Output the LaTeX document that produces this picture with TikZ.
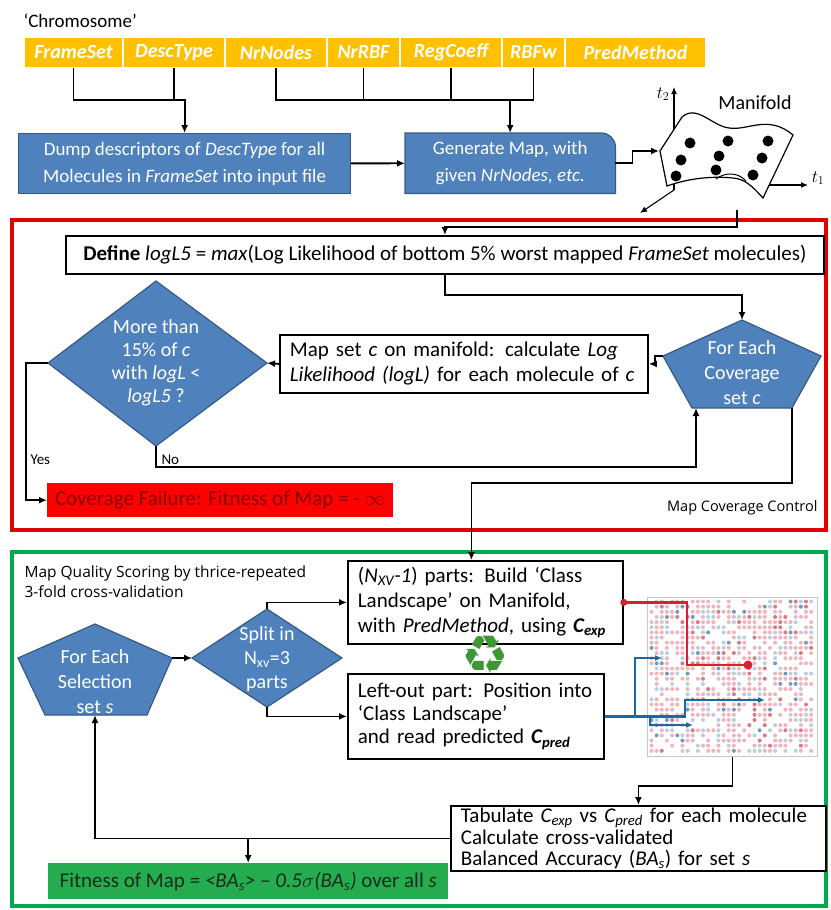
\documentclass[tikz,border=0pt]{standalone}
\usepackage{fontspec}
\setmainfont{Carlito}
\newfontfamily\labelfont{Open Sans}
\newfontfamily\symbolfont{DejaVu Sans}
\usepackage{tikz}
\usetikzlibrary{arrows.meta,positioning,backgrounds}
\definecolor{chromgold}{RGB}{255,192,0}
\definecolor{boxblue}{RGB}{79,129,189}
\definecolor{frred}{RGB}{226,0,0}
\definecolor{frgreen}{RGB}{0,168,80}
\definecolor{failred}{RGB}{255,0,0}
\definecolor{failtext}{RGB}{135,0,0}
\definecolor{fitgreen}{RGB}{36,172,78}
\definecolor{fittext}{RGB}{25,45,30}
\definecolor{lsred}{RGB}{218,32,44}
\definecolor{lsblue}{RGB}{30,104,162}
\definecolor{recgreen}{RGB}{62,150,52}
\definecolor{dotred}{RGB}{242,180,188}
\definecolor{dotdred}{RGB}{218,120,132}
\definecolor{dotblue}{RGB}{184,206,228}
\definecolor{dotdblue}{RGB}{118,152,190}
\newcommand{\pxfont}[2]{\fontsize{#1}{#2}\selectfont}

\begin{document}
\begin{tikzpicture}[x=1pt, y=-1pt,
      cell/.style={fill=chromgold, draw=white, line width=1.3pt, outer sep=0pt, inner sep=0pt,
        minimum height=31pt, text=white, font=\pxfont{20}{24}\bfseries\itshape},
      bluebox/.style={fill=boxblue, draw=boxblue!70!black, line width=1.2pt, text=white,
        align=center, inner sep=4pt, font=\pxfont{19}{27}},
      blueshape/.style={fill=boxblue, draw=boxblue!70!black, line width=1.2pt},
      shapetext/.style={text=white, align=center, inner sep=0pt, font=\pxfont{20}{24}},
      wbox/.style={fill=white, draw=black, line width=1.8pt, inner sep=0pt, inner xsep=10pt,
        font=\pxfont{21}{25}},
      arr/.style={-{Latex[length=8pt,width=7pt]}, line width=1.8pt},
      link/.style={line width=1.8pt},
      axis/.style={-{Latex[length=7pt,width=6pt]}, line width=1.1pt},
      lsline/.style={-{Latex[length=7pt,width=6pt]}, line width=2.2pt}
    ]
  \useasboundingbox (0,0) rectangle (830,910);

  \draw[frred, line width=3.5pt] (12,220) rectangle (826,530);
  \draw[frgreen, line width=3.5pt] (12,552) rectangle (826,906);

  % chromosome genes
  \node[anchor=west, font=\pxfont{19}{23}] (chromlbl) at (20,21) {‘Chromosome’};
  \node[cell, minimum width=99pt, anchor=north west] (fs) at (24,37) {FrameSet};
  \node[cell, minimum width=102pt, right=0pt of fs] (dt) {DescType};
  \node[cell, minimum width=102pt, right=0pt of dt] (nn) {NrNodes};
  \node[cell, minimum width=73pt, right=0pt of nn] (nr) {NrRBF};
  \node[cell, minimum width=102pt, right=0pt of nr] (rc) {RegCoeff};
  \node[cell, minimum width=63pt, right=0pt of rc] (rw) {RBFw};
  \node[cell, minimum width=141pt, right=0pt of rw] (pm) {PredMethod};

  \node[bluebox, minimum width=332pt, minimum height=60pt, anchor=north west] (dump) at (18,133)
    {Dump descriptors of \textit{DescType} for all\\Molecules in \textit{FrameSet} into input file};
  \node[shapetext, minimum width=210pt, minimum height=60pt, anchor=north west, font=\pxfont{19}{27}] (gen) at (405,133)
    {Generate Map, with\\given \textit{NrNodes}, \textit{etc.}};
  \begin{scope}[on background layer]
    \filldraw[blueshape] (gen.south west) -- (gen.north west) -- ([xshift=-14pt]gen.north east)
      arc[start angle=90, end angle=0, radius=14pt] -- (gen.south east) -- cycle;
  \end{scope}

  \coordinate (jl) at (0,100);
  \draw[arr] (fs.south) |- (dump.north |- jl) -- (dump.north);
  \draw[link] (dt.south) -- (dt.south |- jl);
  \draw[link] (nn.south) |- (rw.south |- jl) -- (rw.south);
  \draw[link] (nr.south) -- (nr.south |- jl);
  \draw[link] (rc.south) -- (rc.south |- jl);
  \draw[arr] (gen.north |- jl) -- (gen.north);
  \draw[arr] (dump) -- (gen);

  % manifold sketch
  \coordinate (org) at (674,190);
  \coordinate (t1s) at (769,185);
  \coordinate (mfin) at (659,151);
  \draw[axis] (org) -- (674,87);
  \draw[axis] (org) -- (640,213);
  \draw[axis] (t1s) -- (808,185);
  \filldraw[fill=white, draw=black, line width=1.2pt] (682,117)
    .. controls (697,104) and (712,126) .. (729,128)
    .. controls (748,131) and (768,114) .. (793,135) -- (763,198)
    .. controls (752,186) and (745,179) .. (733,178)
    .. controls (712,176) and (690,178) .. (667,186) -- (660,151) -- cycle;
  \draw[line width=1pt] (716,179) .. controls (725,172) and (738,172) .. (746,181);
  \foreach \p in {(690,143),(728,141),(768,141),(681,160),(719,156),(762,158),(676,176),(716,170),(753,175)}
    \fill \p circle (5.5pt);
  \node[font=\pxfont{18}{18}] (t2lbl) at (663,94) {$t_2$};
  \node[font=\pxfont{18}{18}] (t1lbl) at (818,178) {$t_1$};
  \node[font=\pxfont{20}{24}] (mflbl) at (755,103) {Manifold};
  \draw[arr] (gen.east) -- ++(17,0) |- (mfin);

  % map coverage control
  \coordinate (mfout) at (737,210);
  \node[wbox, minimum width=758pt, minimum height=38pt, anchor=north west] (def) at (65,235)
    {\textbf{Define} \textit{logL5} = \textit{max}(Log Likelihood of bottom 5\% worst mapped \textit{FrameSet} molecules)};
  \draw[arr] (mfout) -- ++(0,17) -| (def.north);

  \coordinate (cov-t) at (742,320);
  \coordinate (cov-r) at (821,356);
  \coordinate (cov-br) at (792,408);
  \coordinate (cov-bl) at (692,408);
  \coordinate (cov-l) at (663,356);
  \coordinate (cov-in) at (696,408);
  \filldraw[blueshape] (cov-t) -- (cov-r) -- (cov-br) -- (cov-bl) -- (cov-l) -- cycle;
  \node[shapetext, font=\pxfont{20}{25}] (covtxt) at (742,373) {For Each\\Coverage\\set \textit{c}};
  \draw[arr] (def.south) -- ++(0,20) -| (cov-t);

  \node[wbox, minimum width=368pt, minimum height=58pt, text width=348pt, align=left, anchor=north west] (mapc) at (279,334)
    {Map set \textit{c} on manifold: calculate \textit{Log}\\\textit{Likelihood (logL)} for each molecule of \textit{c}};
  \draw[arr] (cov-l) -- ++(-8,0) |- (mapc.east);

  \coordinate (dec-t) at (156,281);
  \coordinate (dec-r) at (267,363);
  \coordinate (dec-b) at (156,446);
  \coordinate (dec-l) at (48,363);
  \filldraw[blueshape] (dec-t) -- (dec-r) -- (dec-b) -- (dec-l) -- cycle;
  \node[shapetext, font=\pxfont{20}{23}] (dectxt) at (156,363)
    {More than\\15\% of \textit{c}\\with \textit{logL} <\\\textit{logL5} ?};
  \draw[arr] (mapc.west) -- (dec-r);

  \node[fill=failred, text=failtext, inner sep=0pt, minimum width=346pt, minimum height=34pt,
    anchor=north west, font=\pxfont{21}{25}] (fail) at (47,483)
    {Coverage Failure: Fitness of Map = - $\infty$};
  \draw[arr] (dec-l) -- ++(-22,0) |- (fail.west);
  \node[anchor=west, font=\pxfont{15}{18}] (yeslbl) at (27,460) {Yes};
  \draw[arr] (dec-b) -- ++(0,21) -| (cov-in);
  \node[anchor=west, font=\pxfont{15}{18}] (nolbl) at (158,460) {No};
  \node[anchor=east, font=\labelfont\pxfont{14.5}{17}] (mcclbl) at (821,508) {Map Coverage Control};

  % map quality scoring
  \node[anchor=north west, align=left, font=\labelfont\pxfont{15.5}{20}] (mqlbl) at (21,562)
    {Map Quality Scoring by thrice-repeated\\3-fold cross-validation};

  \coordinate (sel-t) at (95,624);
  \coordinate (sel-r) at (172,658);
  \coordinate (sel-br) at (147,715);
  \coordinate (sel-bl) at (45,715);
  \coordinate (sel-l) at (18,658);
  \coordinate (sel-b) at (95,715);
  \filldraw[blueshape] (sel-t) -- (sel-r) -- (sel-br) -- (sel-bl) -- (sel-l) -- cycle;
  \node[shapetext, font=\pxfont{20}{25}] (seltxt) at (95,682) {For Each\\Selection\\set \textit{s}};

  \coordinate (spl-t) at (267,609);
  \coordinate (spl-r) at (342,658);
  \coordinate (spl-b) at (267,707);
  \coordinate (spl-l) at (192,658);
  \filldraw[blueshape] (spl-t) -- (spl-r) -- (spl-b) -- (spl-l) -- cycle;
  \node[shapetext, font=\pxfont{20}{24}] (spltxt) at (267,659) {Split in\\N\textsubscript{xv}=3\\parts};
  \draw[arr] (sel-r) -- (spl-l);

  \node[wbox, minimum width=275pt, minimum height=83pt, text width=255pt, align=left, anchor=north west] (build) at (347,560)
    {(\textit{N\textsubscript{XV}-1}) parts: Build ‘Class\\Landscape’ on Manifold,\\with \textit{PredMethod}, using \textbf{\textit{C\textsubscript{exp}}}};
  \node[wbox, minimum width=256pt, minimum height=85pt, text width=236pt, align=left, anchor=north west,
    font=\pxfont{21}{23}] (left) at (347,673)
    {Left-out part: Position into\\‘Class Landscape’\\and read predicted \textbf{\textit{C\textsubscript{pred}}}};
  \draw[arr] (spl-t) |- (build.west);
  \draw[arr] (spl-b) |- (left.west);
  \draw[arr] (cov-br) -- ++(0,75) -| ([xshift=-14pt]build.north);
  \node[text=recgreen, inner sep=0pt, font=\symbolfont\pxfont{53}{53}] (recyc) at (485,655) {♻};

  % class landscape
  \node[draw=black!22, line width=0.8pt, minimum width=170pt, minimum height=159pt, inner sep=0pt,
    anchor=north west] (land) at (647,597) {};
  \pgfmathsetseed{11}
  \foreach \i in {0,...,31}{
    \foreach \j in {0,...,29}{
      \pgfmathsetmacro{\pick}{rnd}
      \ifdim\pick pt<0.40pt \fill[dotred] ({651.5+\i*5.15},{601.5+\j*5.15}) circle (2pt);
      \else\ifdim\pick pt<0.47pt \fill[dotdred] ({651.5+\i*5.15},{601.5+\j*5.15}) circle (2pt);
      \else\ifdim\pick pt<0.59pt \fill[dotblue] ({651.5+\i*5.15},{601.5+\j*5.15}) circle (2pt);
      \else\ifdim\pick pt<0.63pt \fill[dotdblue] ({651.5+\i*5.15},{601.5+\j*5.15}) circle (2pt);
      \fi\fi\fi\fi
    }
  }
  \coordinate (rdot) at (748,665);
  \coordinate (bt1) at (662,658);
  \coordinate (bt2) at (765,700);
  \coordinate (bt3) at (693,725);
  \draw[lsred, line width=2.2pt] (build.east) -- ++(63,0) |- (rdot);
  \fill[lsred] (build.east) circle (3.5pt);
  \fill[lsred] (rdot) circle (4.5pt);
  \draw[lsline, lsblue] (left.east) -- ++(30,0) |- (bt1);
  \draw[lsline, lsblue] (left.east) -- ++(80,0) |- (bt2);
  \draw[lsline, lsblue] ([xshift=45pt]left.east) |- (bt3);

  \node[wbox, minimum width=375pt, minimum height=65pt, text width=355pt, align=left, anchor=north west,
    font=\pxfont{21}{21.5}] (tab) at (450,805)
    {Tabulate \textit{C\textsubscript{exp}} vs \textit{C\textsubscript{pred}} for each molecule\\Calculate cross-validated\\Balanced Accuracy (\textit{BA\textsubscript{s}}) for set \textit{s}};
  \draw[arr] (land.south) -- ++(0,29) -| (tab.north);

  \node[fill=fitgreen, text=fittext, inner sep=0pt, minimum width=400pt, minimum height=36pt,
    anchor=north west, font=\pxfont{21}{25}] (fit) at (48,863)
    {Fitness of Map = \textit{<BA\textsubscript{s}>} -- \textit{0.5}$\sigma$\textit{(BA\textsubscript{s})} over all \textit{s}};
  \draw[arr] (tab.west) -| (sel-b);
  \draw[arr] (fit.north |- tab.west) -- (fit.north);
\end{tikzpicture}
\end{document}
